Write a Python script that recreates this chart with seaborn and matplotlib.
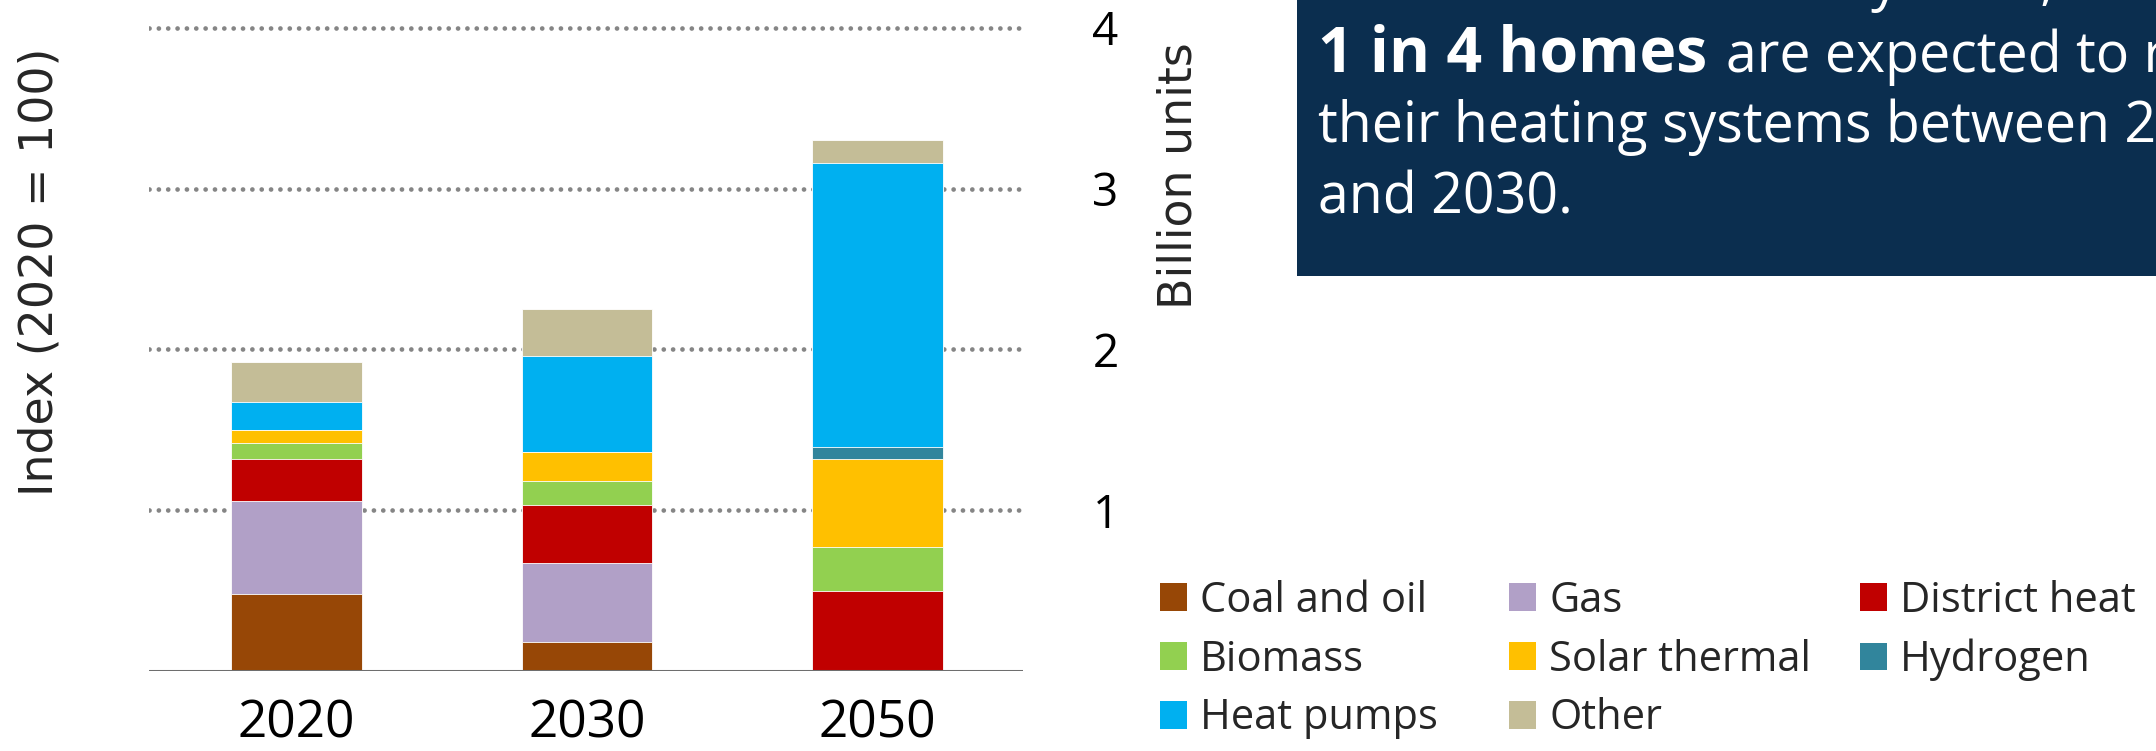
import numpy as np
import matplotlib
matplotlib.use("Agg")
import matplotlib.pyplot as plt
from matplotlib.patches import Patch, Rectangle
import seaborn as sns

# Heating equipment stock by technology (billion units)
years = ["2020", "2030", "2050"]
coal_and_oil = [0.48, 0.18, 0.00]
gas = [0.58, 0.49, 0.00]
district_heat = [0.26, 0.36, 0.50]
biomass = [0.10, 0.15, 0.27]
solar_thermal = [0.08, 0.18, 0.55]
hydrogen = [0.00, 0.00, 0.07]
heat_pumps = [0.17, 0.60, 1.77]
other = [0.25, 0.29, 0.14]

y_ticks = [1, 2, 3, 4]

series = [
    ("Coal and oil", coal_and_oil, "#974706"),
    ("Gas", gas, "#B1A0C7"),
    ("District heat", district_heat, "#C00000"),
    ("Biomass", biomass, "#92D050"),
    ("Solar thermal", solar_thermal, "#FFC000"),
    ("Hydrogen", hydrogen, "#31859C"),
    ("Heat pumps", heat_pumps, "#00B0F0"),
    ("Other", other, "#C4BD97"),
]
colors = {name: c for name, _, c in series}

sns.set_style("white")
plt.rcParams["font.family"] = ["Open Sans", "DejaVu Sans"]

W, H = 2156, 751
fig = plt.figure(figsize=(W / 100, H / 100), dpi=100)
ax = fig.add_axes([149 / W, 80 / H, 874 / W, 671 / H])

# stacked bars: draw cumulative totals from the top segment down
cum = np.zeros(len(years))
tops = []
for name, vals, col in series:
    cum = cum + np.asarray(vals)
    tops.append(cum.copy())
for (name, vals, col), top in reversed(list(zip(series, tops))):
    sns.barplot(x=years, y=top, color=col, width=0.45, saturation=1,
                errorbar=None, edgecolor="white", linewidth=0.6,
                ax=ax, zorder=2)

ax.set_xlim(-0.507, 2.5)
ax.set_ylim(0, 4.173)
for v in y_ticks:
    ax.axhline(v, color="#858585", lw=3.4, ls=(0, (0.01, 1.97)),
               dash_capstyle="round", zorder=1)
ax.axhline(0, color="#6e6e6e", lw=2.2, zorder=3)
for s in ax.spines.values():
    s.set_visible(False)
ax.set_xlabel("")
ax.set_ylabel("")
ax.tick_params(axis="x", length=0, pad=20, labelsize=37, colors="black")

# value scale shown on the right-hand side
ax.yaxis.set_ticks_position("right")
ax.set_yticks(y_ticks)
ax.set_yticklabels([str(t) for t in y_ticks])
ax.tick_params(axis="y", length=0, pad=50, labelsize=33, colors="black")

fig.text(40 / W, 1 - 272 / H, "Index (2020 = 100)", rotation=90,
         ha="center", va="center", fontsize=33, family="DejaVu Sans")
fig.text(1179 / W, 1 - 176 / H, "Billion units", rotation=90,
         ha="center", va="center", fontsize=33, family="DejaVu Sans")

# call-out box
fig.add_artist(Rectangle((1297 / W, 1 - 276 / H), 1, 1, transform=fig.transFigure,
                         facecolor="#0B2E4F", edgecolor="none", zorder=0))
tx = 1318 / W
fs = 40
fig.text(tx, 1 + 1 / H, "In the NZE Scenario by 2030,", color="white",
         fontsize=fs, va="baseline", ha="left")
fig.text(tx, 1 - 72 / H, "1 in 4 homes", color="white", fontsize=45,
         fontweight="bold", va="baseline", ha="left")
fig.text(1726 / W, 1 - 72 / H, "are expected to replace", color="white",
         fontsize=fs, va="baseline", ha="left")
fig.text(tx, 1 - 142.5 / H, "their heating systems between 2022", color="white",
         fontsize=fs, va="baseline", ha="left")
fig.text(tx, 1 - 213 / H, "and 2030.", color="white", fontsize=fs,
         va="baseline", ha="left")

# legend in three columns
legend_cols = [["Coal and oil", "Biomass", "Heat pumps"],
               ["Gas", "Solar thermal", "Other"],
               ["District heat", "Hydrogen"]]
col_x = [1160, 1509, 1860]
for names, x in zip(legend_cols, col_x):
    handles = [Patch(facecolor=colors[n], edgecolor="none", label=n) for n in names]
    fig.legend(handles=handles, loc="upper left", bbox_to_anchor=(x / W, 1 - 580 / H),
               frameon=False, fontsize=30, handlelength=0.65, handleheight=0.65,
               handletextpad=0.31, labelspacing=0.4, borderpad=0, borderaxespad=0)

fig.savefig("out.png", dpi=100)
